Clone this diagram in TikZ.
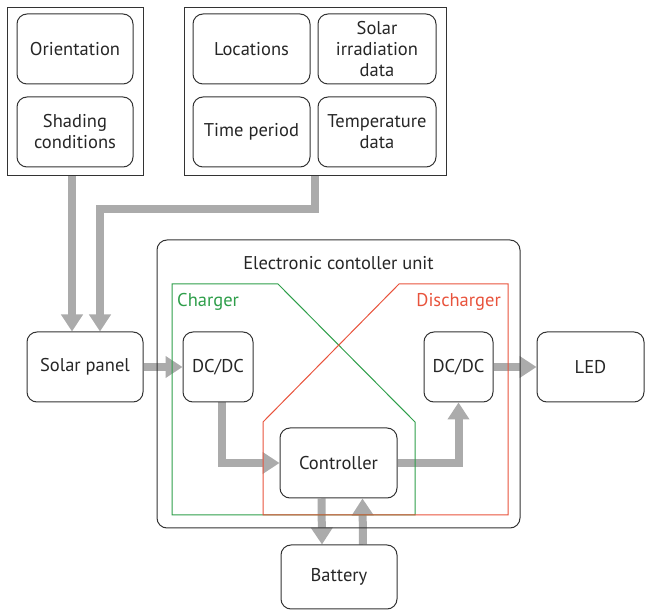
\documentclass[tikz,border=0pt]{standalone}
\usepackage{fontspec}
\setmainfont{PT Sans}
\usetikzlibrary{arrows.meta,calc,backgrounds}
\definecolor{lc}{HTML}{333333}
\definecolor{ac}{HTML}{ABABAB}
\definecolor{gc}{HTML}{2E9E4A}
\definecolor{rc}{HTML}{E8533C}
\begin{document}
\begin{tikzpicture}[x=1pt,y=-1pt,
  txt/.style={font=\fontsize{18.5}{21}\selectfont, text=black!85},
  box/.style={txt, draw=lc, line width=1pt, rounded corners=10pt, align=center, inner sep=0pt},
  frame/.style={draw=lc, line width=1pt, inner sep=0pt},
  flow/.style={draw=ac, line width=8pt, -{Triangle[length=17pt,width=21pt]}},
  zone/.style={line width=1pt}]
\useasboundingbox (0,0) rectangle (649,612);
% top groups
\node[frame, minimum width=136pt, minimum height=168pt] (outL) at (75,92) {};
\node[box, minimum width=116pt, minimum height=70pt] (ori) at (75,49) {Orientation};
\node[box, minimum width=116pt, minimum height=70pt] (shd) at (75,132) {Shading\\conditions};
\node[frame, minimum width=262pt, minimum height=168pt] (outR) at (315,92) {};
\node[box, minimum width=117pt, minimum height=70pt] (loc) at (251.5,49) {Locations};
\node[box, minimum width=118pt, minimum height=70pt] (sol) at (377,49) {Solar\\irradiation\\data};
\node[box, minimum width=117pt, minimum height=70pt] (tim) at (251.5,132) {Time period};
\node[box, minimum width=118pt, minimum height=70pt] (tmp) at (377,132) {Temperature\\data};
% ECU
\node[box, minimum width=363pt, minimum height=288pt] (ecu) at (338.5,384) {};
\node[txt] (ecut) at (338.5,263) {Electronic contoller unit};
\draw[zone, gc] (172,515) -- (172,284) -- (278,284) -- (415,422) -- (415,515) -- cycle;
\draw[zone, rc] (263,515) -- (263,422) -- (399,284) -- (508,284) -- (508,515) -- cycle;
\node[txt, text=gc, anchor=west, inner sep=0pt] (chg) at (177,302) {Charger};
\node[txt, text=rc, anchor=east, inner sep=0pt] (dis) at (501,302) {Discharger};
% blocks
\node[box, minimum width=116pt, minimum height=70pt] (sp) at (85,367) {Solar panel};
\node[box, minimum width=70pt, minimum height=70pt] (dc1) at (218,367) {DC/DC};
\node[box, minimum width=69pt, minimum height=70pt] (dc2) at (458.5,367) {DC/DC};
\node[box, minimum width=107pt, minimum height=70pt] (led) at (590.5,367) {LED};
\node[box, minimum width=117pt, minimum height=70pt] (ctl) at (338.5,463) {Controller};
\node[box, minimum width=116pt, minimum height=64pt] (bat) at (339,577) {Battery};
% arrows
\begin{scope}[on background layer]
\draw[flow] ($(outL.south)+(-3,0)$) -- ($(sp.north)+(-13,0)$);
\draw[flow] (outR.south) |- ($(sp.north)+(15,-122)$) -- ($(sp.north)+(15,0)$);
\draw[flow] (sp.east) -- (dc1.west);
\draw[flow] ($(dc1.south)+(4,0)$) |- (ctl.west);
\draw[flow] (ctl.east) -| (dc2.south);
\draw[flow] (dc2.east) -- (led.west);
\draw[flow] ($(ctl.south)+(-17,0)$) -- ($(bat.north)+(-17,0)$);
\draw[flow] ($(bat.north)+(24,0)$) -- ($(ctl.south)+(24,0)$);
\end{scope}
\end{tikzpicture}
\end{document}
